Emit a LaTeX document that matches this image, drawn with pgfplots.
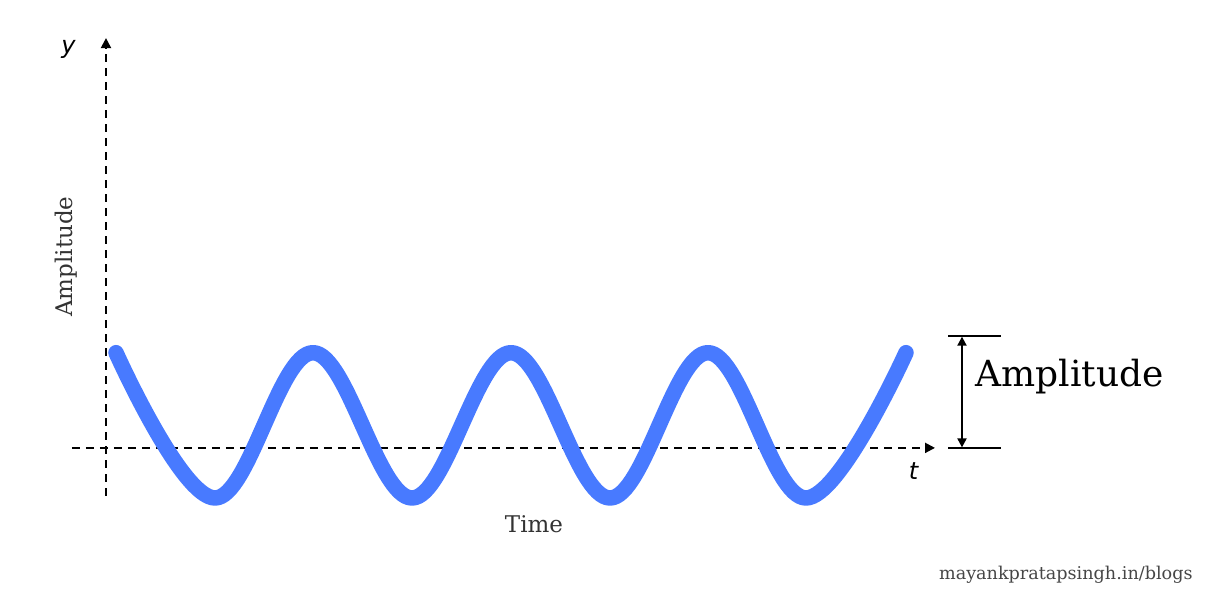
\documentclass[border=0pt]{standalone}
\usepackage{pgfplots}
\pgfplotsset{compat=1.18}
\usepackage{fontspec}
\setmainfont{DejaVu Serif}
\newfontfamily\labelfont{DejaVu Sans}
\usetikzlibrary{arrows.meta}
\definecolor{wave}{RGB}{72,122,255}
\definecolor{txt}{RGB}{51,51,51}
\definecolor{wm}{RGB}{70,70,70}
\begin{document}
\begin{tikzpicture}
\begin{axis}[
  scale only axis,
  width=431.5pt, height=228.5pt,
  xmin=-34, xmax=829, ymin=-48, ymax=409,
  axis lines=middle,
  axis line style={line width=1pt, dash pattern=on 4pt off 3pt, -{Triangle[length=5pt,width=5pt]}},
  xtick=\empty, ytick=\empty,
  clip=false,
]
\path (axis cs:-106,-151) rectangle (axis cs:1106,447);
\addplot[wave, line width=7.75pt, line cap=round, line join=round, smooth, tension=0.62, mark=none] coordinates {
(10,95) (109,-50) (207,95) (306,-50) (405,95) (504,-50) (602,95) (700,-50) (800,95)
};
% amplitude annotation
\draw[line width=1pt] (axis cs:842,112) -- (axis cs:895,112);
\draw[line width=1pt] (axis cs:842,0) -- (axis cs:895,0);
\draw[line width=1pt, {Triangle[length=4.5pt,width=4.5pt]}-{Triangle[length=4.5pt,width=4.5pt]}] (axis cs:856,111) -- (axis cs:856,0.5);
\node[anchor=base west, inner sep=0pt, font=\fontsize{18}{20}\selectfont] at (axis cs:869,61) {Amplitude};
% labels
\node[inner sep=0pt, font=\labelfont\itshape\fontsize{12}{14}\selectfont] at (axis cs:-37.5,397.5) {y};
\node[inner sep=0pt, font=\labelfont\itshape\fontsize{12}{14}\selectfont] at (axis cs:807.5,-23.5) {t};
\node[anchor=base, inner sep=0pt, text=txt, font=\fontsize{11.5}{13}\selectfont] at (axis cs:428,-84) {Time};
\node[anchor=base, rotate=90, inner sep=0pt, text=txt, font=\fontsize{11.5}{13}\selectfont] at (axis cs:-33,191) {Amplitude};
\node[anchor=base east, inner sep=0pt, text=wm, font=\fontsize{8.8}{10}\selectfont] at (axis cs:1087,-131) {mayankpratapsingh.in/blogs};
\end{axis}
\end{tikzpicture}
\end{document}
